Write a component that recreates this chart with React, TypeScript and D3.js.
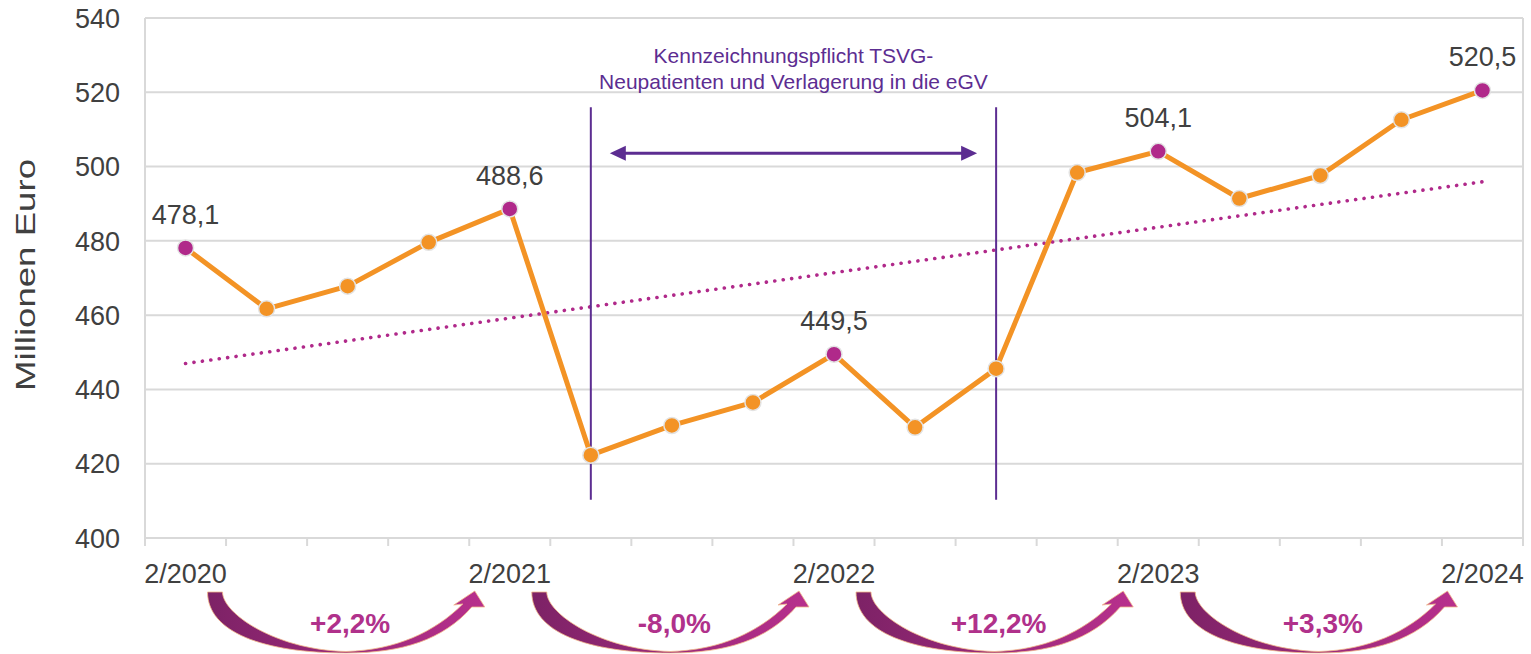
import React, { useEffect, useRef } from "react";
import { select, scaleLinear, scaleBand, line, range, mean, sum } from "d3";

const quarters = [
  "2/2020", "3/2020", "4/2020", "1/2021", "2/2021", "3/2021", "4/2021", "1/2022",
  "2/2022", "3/2022", "4/2022", "1/2023", "2/2023", "3/2023", "4/2023", "1/2024", "2/2024",
];
const values = [
  478.1, 461.7, 467.8, 479.6, 488.6, 422.3, 430.3, 436.5,
  449.5, 429.8, 445.6, 498.4, 504.1, 491.4, 497.6, 512.6, 520.5,
];
const yTicks = [400, 420, 440, 460, 480, 500, 520, 540];
const xTickLabels = ["2/2020", "2/2021", "2/2022", "2/2023", "2/2024"];
const changeLabels = ["+2,2%", "-8,0%", "+12,2%", "+3,3%"];
const periodBounds = ["3/2021", "4/2022"];
const noteLines = ["Kennzeichnungspflicht TSVG-", "Neupatienten und Verlagerung in die eGV"];

const margin = { top: 18, right: 8, bottom: 116, left: 145 };
const canvasWidth = 1531;
const canvasHeight = 654;

const orange = "#f39325";
const magenta = "#b0298a";
const purple = "#5c2d91";
const textGray = "#404040";
const gridGray = "#d9d9d9";
const font = "'Liberation Sans', Arial, sans-serif";

function App() {
  const svgRef = useRef<SVGSVGElement>(null);

  function drawChart(svg: any) {
    const innerW = canvasWidth - margin.left - margin.right;
    const innerH = canvasHeight - margin.top - margin.bottom;

    const xScale = scaleBand().domain(quarters).range([0, innerW]);
    const bw = xScale.bandwidth();
    const cx = (q: string) => (xScale(q) as number) + bw / 2;
    const yScale = scaleLinear().domain([400, 540]).range([innerH, 0]);

    const defs = svg.append("defs");
    const grad = defs
      .append("linearGradient")
      .attr("id", "arrowGrad")
      .attr("x1", 0)
      .attr("x2", 1)
      .attr("y1", 0)
      .attr("y2", 0);
    grad.append("stop").attr("offset", "0%").attr("stop-color", "#7d2266");
    grad.append("stop").attr("offset", "100%").attr("stop-color", "#b8308d");

    const g = svg
      .append("g")
      .attr("transform", `translate(${margin.left}, ${margin.top})`);

    // grid + frame
    g.selectAll(".grid")
      .data(yTicks)
      .join("line")
      .attr("x1", 0)
      .attr("x2", innerW)
      .attr("y1", (d: number) => yScale(d))
      .attr("y2", (d: number) => yScale(d))
      .attr("stroke", gridGray)
      .attr("stroke-width", 2);
    [0, innerW].forEach((x) => {
      g.append("line")
        .attr("x1", x)
        .attr("x2", x)
        .attr("y1", 0)
        .attr("y2", innerH)
        .attr("stroke", gridGray)
        .attr("stroke-width", 2);
    });
    // category ticks
    g.selectAll(".tick")
      .data(range(quarters.length + 1))
      .join("line")
      .attr("x1", (i: number) => i * bw)
      .attr("x2", (i: number) => i * bw)
      .attr("y1", innerH)
      .attr("y2", innerH + 8)
      .attr("stroke", gridGray)
      .attr("stroke-width", 2);

    // y tick labels
    g.selectAll(".ylab")
      .data(yTicks)
      .join("text")
      .attr("x", -25)
      .attr("y", (d: number) => yScale(d))
      .attr("dy", "0.36em")
      .attr("text-anchor", "end")
      .attr("font-family", font)
      .attr("font-size", 27)
      .attr("fill", textGray)
      .text((d: number) => d);

    // x tick labels
    g.selectAll(".xlab")
      .data(xTickLabels)
      .join("text")
      .attr("x", (d: string) => cx(d))
      .attr("y", innerH + 45)
      .attr("text-anchor", "middle")
      .attr("font-family", font)
      .attr("font-size", 27)
      .attr("fill", textGray)
      .text((d: string) => d);

    // y axis title
    svg.append("text")
      .attr("transform", `translate(35, 391) rotate(-90)`)
      .attr("font-family", font)
      .attr("font-size", 28)
      .attr("fill", textGray)
      .attr("textLength", 232)
      .attr("lengthAdjust", "spacingAndGlyphs")
      .text("Millionen Euro");

    // linear trend
    const idx = range(values.length);
    const mx = mean(idx) as number;
    const my = mean(values) as number;
    const slope =
      (sum(idx, (i) => (i - mx) * (values[i] - my)) as number) /
      (sum(idx, (i) => (i - mx) * (i - mx)) as number);
    const trend = (i: number) => my + slope * (i - mx);
    g.append("path")
      .datum([0, values.length - 1])
      .attr("fill", "none")
      .attr("stroke", magenta)
      .attr("stroke-width", 3.6)
      .attr("stroke-linecap", "round")
      .attr("stroke-dasharray", "0.1 8.4")
      .attr(
        "d",
        line<number>()
          .x((i) => cx(quarters[i]))
          .y((i) => yScale(trend(i)))
      );

    // period annotation
    const [qa, qb] = periodBounds;
    const xa = cx(qa);
    const xb = cx(qb);
    [xa, xb].forEach((x) => {
      g.append("line")
        .attr("x1", x)
        .attr("x2", x)
        .attr("y1", yScale(516))
        .attr("y2", yScale(410.3))
        .attr("stroke", purple)
        .attr("stroke-width", 2);
    });
    const ay = yScale(503.6);
    g.append("line")
      .attr("x1", xa + 30)
      .attr("x2", xb - 30)
      .attr("y1", ay)
      .attr("y2", ay)
      .attr("stroke", purple)
      .attr("stroke-width", 3);
    g.append("path")
      .attr("d", `M${xa + 19},${ay} L${xa + 35},${ay - 7.5} L${xa + 35},${ay + 7.5} Z`)
      .attr("fill", purple);
    g.append("path")
      .attr("d", `M${xb - 19},${ay} L${xb - 35},${ay - 7.5} L${xb - 35},${ay + 7.5} Z`)
      .attr("fill", purple);
    g.selectAll(".note")
      .data(noteLines)
      .join("text")
      .attr("x", (xa + xb) / 2)
      .attr("y", (_: string, i: number) => 45 + i * 26)
      .attr("text-anchor", "middle")
      .attr("font-family", font)
      .attr("font-size", 21)
      .attr("fill", purple)
      .text((d: string) => d);

    // main line
    g.append("path")
      .datum(values)
      .attr("fill", "none")
      .attr("stroke", orange)
      .attr("stroke-width", 5)
      .attr("stroke-linejoin", "round")
      .attr(
        "d",
        line<number>()
          .x((_, i) => cx(quarters[i]))
          .y((d) => yScale(d))
      );

    g.selectAll(".pt")
      .data(values)
      .join("circle")
      .attr("cx", (_: number, i: number) => cx(quarters[i]))
      .attr("cy", (d: number) => yScale(d))
      .attr("r", 8)
      .attr("fill", (_: number, i: number) =>
        xTickLabels.includes(quarters[i]) ? magenta : orange
      )
      .attr("stroke", "#e3e3e3")
      .attr("stroke-width", 1.5);

    // value labels for yearly points
    g.selectAll(".vlab")
      .data(xTickLabels)
      .join("text")
      .attr("x", (q: string) => cx(q))
      .attr("y", (q: string) => yScale(values[quarters.indexOf(q)]) - 24)
      .attr("text-anchor", "middle")
      .attr("font-family", font)
      .attr("font-size", 27)
      .attr("fill", textGray)
      .text((q: string) => values[quarters.indexOf(q)].toFixed(1).replace(".", ","));

    // year-over-year curved arrows
    changeLabels.forEach((label, k) => {
      const x0 = cx(xTickLabels[k]) + 22;
      const x1 = cx(xTickLabels[k + 1]) - 25;
      const W = x1 - x0;
      const t = innerH + 54;
      const b = innerH + 115;
      const d = [
        `M0,${t}`,
        `C0,${t + 40} ${0.2 * W},${b} ${0.5 * W},${b}`,
        `C${0.7 * W},${b} ${0.85 * W},${b - 13} ${W - 13},${t + 15}`,
        `L${W},${t + 15}`,
        `L${W - 10},${t - 1}`,
        `L${W - 31},${t + 13}`,
        `L${W - 22},${t + 12}`,
        `C${0.82 * W},${t + 40} ${0.68 * W},${b - 3} ${0.5 * W},${b - 1.5}`,
        `C${0.25 * W},${b - 3} 15,${t + 22} 15,${t}`,
        "Z",
      ].join(" ");
      const ga = g.append("g").attr("transform", `translate(${x0}, 0)`);
      ga.append("path")
        .attr("d", d)
        .attr("fill", "url(#arrowGrad)")
        .attr("stroke", "#f2b98a")
        .attr("stroke-width", 0.8);
      ga.append("text")
        .attr("x", W / 2 + 4)
        .attr("y", innerH + 95)
        .attr("text-anchor", "middle")
        .attr("font-family", font)
        .attr("font-size", 28)
        .attr("font-weight", "bold")
        .attr("fill", "#b0318b")
        .text(label);
    });
  }

  useEffect(() => {
    const svg = select(svgRef.current);
    svg.selectAll("*").remove();
    drawChart(svg);
    return () => {
      svg.selectAll("*").remove();
    };
  }, []);

  return (
    <svg
      ref={svgRef}
      width={canvasWidth}
      height={canvasHeight}
      style={{ position: "absolute", left: 0, top: 0, background: "#fff" }}
    />
  );
}

export default App;
